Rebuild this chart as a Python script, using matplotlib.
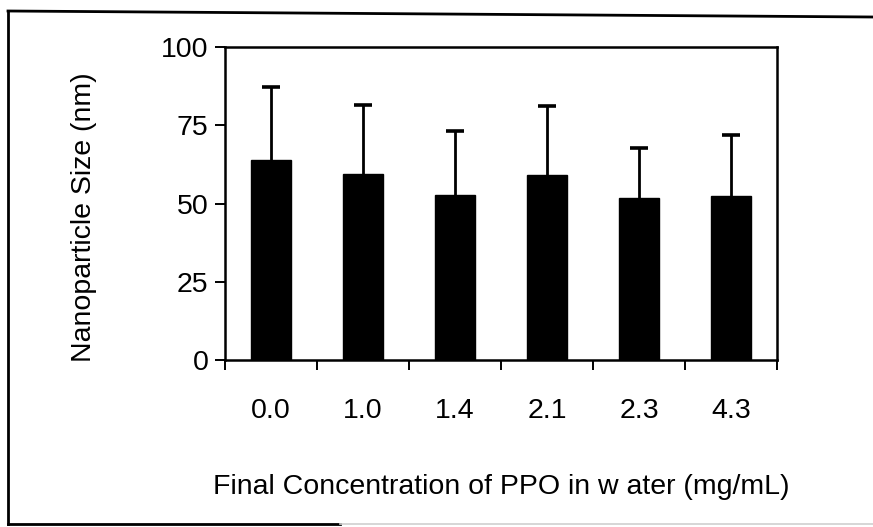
import matplotlib
matplotlib.use("Agg")
import matplotlib.pyplot as plt
from matplotlib.lines import Line2D
import numpy as np

categories = ["0.0", "1.0", "1.4", "2.1", "2.3", "4.3"]
sizes = [64.0, 59.3, 52.8, 59.0, 51.8, 52.5]
errors = [23.3, 22.3, 20.3, 22.3, 15.8, 19.5]
yticks = [0, 25, 50, 75, 100]

plt.rcParams['font.family'] = ['Liberation Sans', 'DejaVu Sans']

W, H = 873, 527
fig = plt.figure(figsize=(W / 100, H / 100), dpi=100)
ax = fig.add_axes([225 / W, 1 - 360 / H, 552 / W, 313 / H])

FS = 20.5

x = np.arange(len(categories))
ax.bar(x, sizes, width=0.44, color='black', edgecolor='black', zorder=2)
eb = ax.errorbar(x, sizes, yerr=[np.zeros(len(errors)), errors], fmt='none',
                 ecolor='black', elinewidth=2.0, capsize=6.2, capthick=2.6, zorder=3)
# keep only the upper caps
caplines = eb[1]
if len(caplines) == 2:
    caplines[0].set_visible(False)

ax.set_xlim(-0.5, len(categories) - 0.5)
ax.set_ylim(0, 100)
ax.set_yticks(yticks)
ax.set_yticklabels([str(v) for v in yticks])

ax.set_xticks(np.arange(len(categories) + 1) - 0.5)
ax.set_xticklabels([])
ax.set_xticks(x, minor=True)
ax.set_xticklabels(categories, minor=True)

ax.tick_params(axis='x', which='major', direction='out', length=7, width=1.4)
ax.tick_params(axis='x', which='minor', length=0, pad=27, labelsize=FS)
ax.tick_params(axis='y', direction='out', length=7, width=1.4, pad=5, labelsize=FS)

for s in ax.spines.values():
    s.set_linewidth(1.8)
    s.set_color('black')

ax.set_ylabel("Nanoparticle Size (nm)", fontsize=FS)
ax.yaxis.set_label_coords(-0.232, 0.457)
ax.set_xlabel("Final Concentration of PPO in w ater (mg/mL)", fontsize=FS)
ax.xaxis.set_label_coords(0.5, -0.364)

# outer frame (scanned border)
def fl(x0, y0, x1, y1, color='black', lw=2.0):
    fig.add_artist(Line2D([x0 / W, x1 / W], [1 - y0 / H, 1 - y1 / H],
                          color=color, linewidth=lw, transform=fig.transFigure))

fl(8, 11, 873, 17)
fl(8, 11, 8, 524)
fl(8, 524, 340, 524)
fl(340, 524, 873, 524, color='#d0d0d0', lw=1.2)

fig.savefig("out.png", dpi=100)
